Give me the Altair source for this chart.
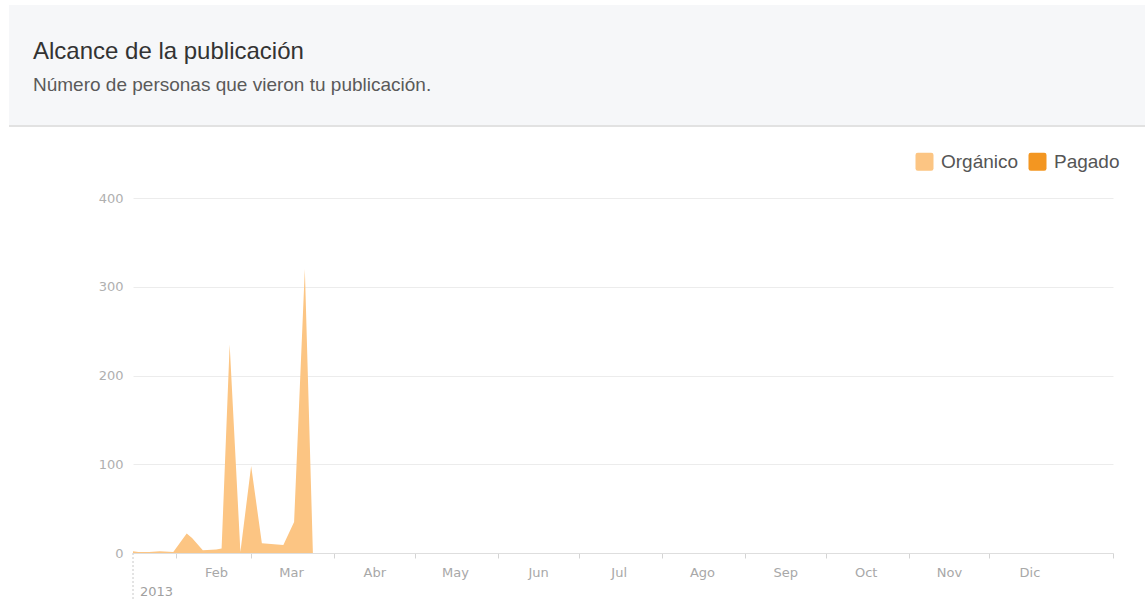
import json
import altair as alt
import pandas as pd

# ---- data -------------------------------------------------------------
FECHAS = ["2013-01-16", "2013-01-18", "2013-01-22", "2013-01-26", "2013-01-31",
          "2013-02-05", "2013-02-07", "2013-02-11", "2013-02-16", "2013-02-18",
          "2013-02-21", "2013-02-25", "2013-03-01", "2013-03-05", "2013-03-13",
          "2013-03-17", "2013-03-21", "2013-03-24"]
ORGANICO = [2, 1, 1, 2, 1, 22, 17, 3, 4, 5, 235, 1, 98, 11, 9, 35, 320, 0]

SERIES = ["Orgánico", "Pagado"]
COLORES = ["#FCC583", "#F39621"]

MESES = ["Ene", "Feb", "Mar", "Abr", "May", "Jun",
         "Jul", "Ago", "Sep", "Oct", "Nov", "Dic"]
Y_TICKS = [0, 100, 200, 300, 400]
ANIO = "2013"

TITULO = "Alcance de la publicación"
SUBTITULO = "Número de personas que vieron tu publicación."

# ---- layout (plot area placed by padding) -----------------------------
W, H = 980, 355
PAD = {"left": 133, "top": 198, "right": 32, "bottom": 47}

x_scale = alt.Scale(domain=[alt.DateTime(year=2013, month=1, date=16),
                            alt.DateTime(year=2014, month=1, date=16)])
y_scale = alt.Scale(domain=[0, 400], nice=False)

df = pd.DataFrame({
    "fecha": pd.to_datetime(FECHAS),
    "alcance": ORGANICO,
    "serie": [SERIES[0]] * len(FECHAS),
})

tick_values = [alt.DateTime(year=2013, month=m, date=1) for m in range(2, 13)]
tick_values.append(alt.DateTime(year=2014, month=1, date=16))
label_expr = f"year(datum.value) > 2013 ? '' : {json.dumps(MESES)}[month(datum.value)]"

AXIS_FONT = "DejaVu Sans"

area = alt.Chart(df).mark_area(interpolate="linear", opacity=1).encode(
    x=alt.X("fecha:T", scale=x_scale, title=None,
            axis=alt.Axis(values=tick_values, labelExpr=label_expr,
                          labelOffset=40, labelPadding=8, labelOverlap=False,
                          labelFlush=False, labelBound=False,
                          labelFont=AXIS_FONT, labelFontSize=13,
                          labelColor="#a8a8a8", tickSize=5, tickColor="#d4d4d4",
                          domainColor="#dedede", grid=False)),
    y=alt.Y("alcance:Q", scale=y_scale, title=None,
            axis=alt.Axis(values=Y_TICKS, domain=False, ticks=False,
                          labelPadding=10, labelFont=AXIS_FONT, labelFontSize=13,
                          labelColor="#b0b0b0", gridColor="#ececec")),
    color=alt.Color("serie:N", title=None,
                    scale=alt.Scale(domain=SERIES, range=COLORES),
                    legend=alt.Legend(orient="none", legendX=782, legendY=-46,
                                      direction="horizontal", padding=0,
                                      symbolType="M-0.75,-1L0.75,-1Q1,-1 1,-0.75L1,0.75Q1,1 0.75,1L-0.75,1Q-1,1 -1,0.75L-1,-0.75Q-1,-1 -0.75,-1Z",
                                      symbolSize=324, symbolStrokeWidth=0,
                                      symbolOpacity=1, labelOffset=7,
                                      columnPadding=9, labelFont="Liberation Sans",
                                      labelFontSize=19, labelColor="#555555")),
)

# header band with title and subtitle
banda = alt.Chart(pd.DataFrame({"k": [0]})).mark_rect(color="#f6f7f9").encode(
    x=alt.value(-124), x2=alt.value(W + PAD["right"]),
    y=alt.value(-193), y2=alt.value(-72),
)
borde = alt.Chart(pd.DataFrame({"k": [0]})).mark_rule(color="#e2e2e2", strokeWidth=2).encode(
    x=alt.value(-124), x2=alt.value(W + PAD["right"]), y=alt.value(-72),
)
titulo = alt.Chart(pd.DataFrame({"t": [TITULO]})).mark_text(
    align="left", baseline="alphabetic", font="Liberation Sans",
    fontSize=24, color="#333333",
).encode(text="t:N", x=alt.value(-100), y=alt.value(-139))
subtitulo = alt.Chart(pd.DataFrame({"t": [SUBTITULO]})).mark_text(
    align="left", baseline="alphabetic", font="Liberation Sans",
    fontSize=19, color="#5a5a5a",
).encode(text="t:N", x=alt.value(-100), y=alt.value(-107))

# year marker at the start of the time axis
inicio = pd.DataFrame({"fecha": pd.to_datetime([FECHAS[0]]), "anio": [ANIO]})
marca = alt.Chart(inicio).mark_rule(color="#c8c8c8", strokeDash=[2, 2]).encode(
    x=alt.X("fecha:T", scale=x_scale), y=alt.value(H), y2=alt.value(H + 47),
)
anio = alt.Chart(inicio).mark_text(
    align="left", baseline="middle", dx=7, font=AXIS_FONT, fontSize=13, color="#a0a0a0",
).encode(x=alt.X("fecha:T", scale=x_scale), y=alt.value(H + 39), text="anio:N")

chart = alt.layer(banda, borde, titulo, subtitulo, area, marca, anio).properties(
    width=W, height=H,
    autosize=alt.AutoSizeParams(type="none"),
    padding=PAD,
    background="white",
).configure_view(stroke=None)

chart.save("out.html", embed_options={"renderer": "svg", "actions": False})
